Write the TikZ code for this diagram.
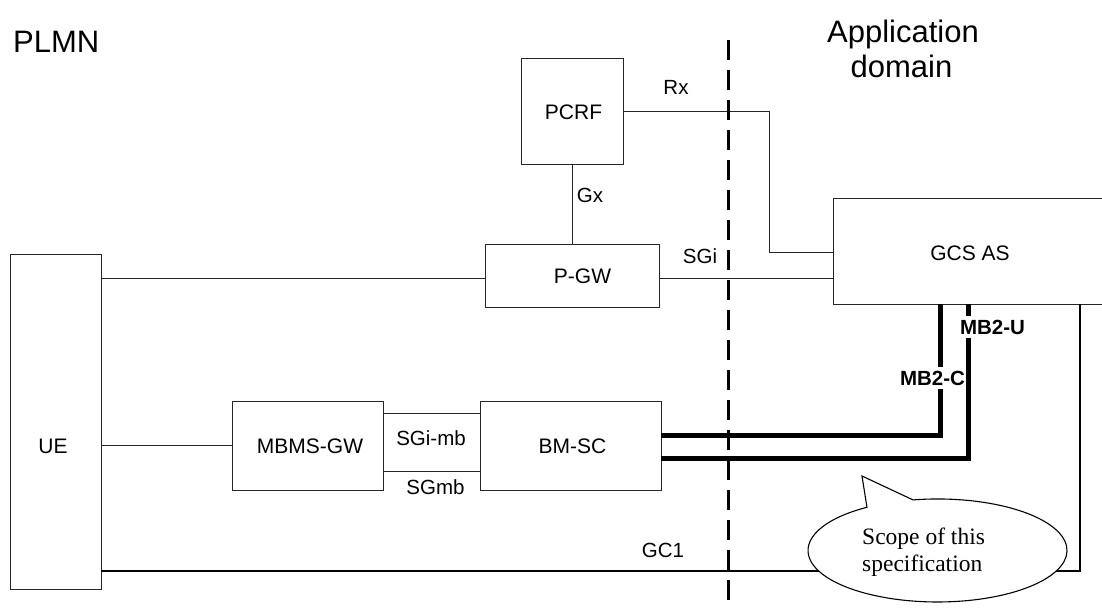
\documentclass[tikz,border=0pt]{standalone}
\usepackage{fontspec}
\setmainfont{Liberation Sans}
\newfontfamily\scopefont{Liberation Serif}
\begin{document}
\begin{tikzpicture}[x=1pt,y=-1pt,
  box/.style={draw=black!85, line width=0.9pt, rectangle, inner sep=0pt, outer sep=0pt},
  conn/.style={draw=black!85, line width=0.9pt},
  thickconn/.style={draw=black, line width=5pt},
  boxlabel/.style={font=\fontsize{21}{25}\selectfont, anchor=base, inner sep=0pt},
  iflabel/.style={font=\fontsize{20.5}{25}\selectfont, anchor=base, inner sep=0pt},
  boldlabel/.style={font=\fontsize{20.5}{25}\selectfont\bfseries, anchor=base, fill=white, inner xsep=1pt, inner ysep=4pt},
  titlelabel/.style={font=\fontsize{31}{35}\selectfont, anchor=base, inner sep=0pt},
  scopelabel/.style={font=\scopefont\fontsize{23.5}{27}\selectfont, anchor=base west, inner sep=0pt},
  domline/.style={line width=3pt, dash pattern=on 20pt off 10pt}
]
\useasboundingbox (0,0) rectangle (1102,608);

% boxes
\node[box, minimum width=91pt,  minimum height=335pt] (ue)   at (55.5,421.5) {};
\node[box, minimum width=102pt, minimum height=106pt] (pcrf) at (572,111) {};
\node[box, minimum width=174pt, minimum height=63pt]  (pgw)  at (572,275.5) {};
\node[box, minimum width=277pt, minimum height=106pt] (gcs)  at (971.5,251) {};
\node[box, minimum width=151pt, minimum height=89pt]  (mbms) at (307.5,445.5) {};
\node[box, minimum width=181pt, minimum height=89pt]  (bmsc) at (570.5,445.5) {};

% box texts
\node[boxlabel] (ueT)   at (53,453)    {UE};
\node[boxlabel] (pcrfT) at (573.5,119) {PCRF};
\node[boxlabel] (pgwT)  at (582.5,283) {P-GW};
\node[boxlabel] (gcsT)  at (970,260)   {GCS AS};
\node[boxlabel] (mbmsT) at (310,453)   {MBMS-GW};
\node[boxlabel] (bmscT) at (572.5,453) {BM-SC};

% thin connectors
\draw[conn] (ue.east |- 0,278) -- (pgw.west |- 0,278);
\draw[conn] (ue.east |- mbms.west) -- (mbms.west);
\draw[conn] (pcrf.south) -- (pgw.north);
\draw[conn] (pcrf.east) -- ++(146,0) |- (gcs.west |- 0,252);
\draw[conn] (pgw.east |- 0,278) -- (gcs.west |- 0,278);
\draw[conn] (mbms.east |- 0,413) -- (bmsc.west |- 0,413);
\draw[conn] (mbms.east |- 0,471) -- (bmsc.west |- 0,471);
\draw[conn, draw=black, line width=1.1pt] (ue.east |- 0,571) -| (gcs.south -| 1080,0);

% thick connectors
\draw[thickconn] (bmsc.east |- 0,435) -| (gcs.south -| 940,0);
\draw[thickconn] (bmsc.east |- 0,458) -| (gcs.south -| 968,0);

% interface labels
\node[iflabel] (rxT)   at (676,94)    {Rx};
\node[iflabel] (gxT)   at (590,202)   {Gx};
\node[iflabel] (sgiT)  at (700,263)   {SGi};
\node[iflabel] (sgimbT) at (431,445)  {SGi-mb};
\node[iflabel] (sgmbT) at (435.5,494) {SGmb};
\node[iflabel] (gc1T)  at (663,557)   {GC1};
\node[boldlabel] (mb2cT) at (932.5,385) {MB2-C};
\node[boldlabel] (mb2uT) at (992.5,334) {MB2-U};

% domain separator
\coordinate (dtop) at (728,40);
\coordinate (dbot) at (728,612);
\draw[domline] (dtop) -- (dbot);

% titles
\node[titlelabel, anchor=base west] (plmnT) at (13,52) {PLMN};
\node[titlelabel] (appT1) at (903,42) {Application};
\node[titlelabel] (appT2) at (901.5,77) {domain};

% scope callout
\path[draw=black, line width=1.1pt, fill=white]
  (913,499.9) arc[start angle=100.9, end angle=-237, x radius=129.5pt, y radius=51.5pt]
  -- (862,476) -- cycle;
\node[scopelabel] (scopeT1) at (862,544) {Scope of this};
\node[scopelabel] (scopeT2) at (862,571) {specification};
\end{tikzpicture}
\end{document}
